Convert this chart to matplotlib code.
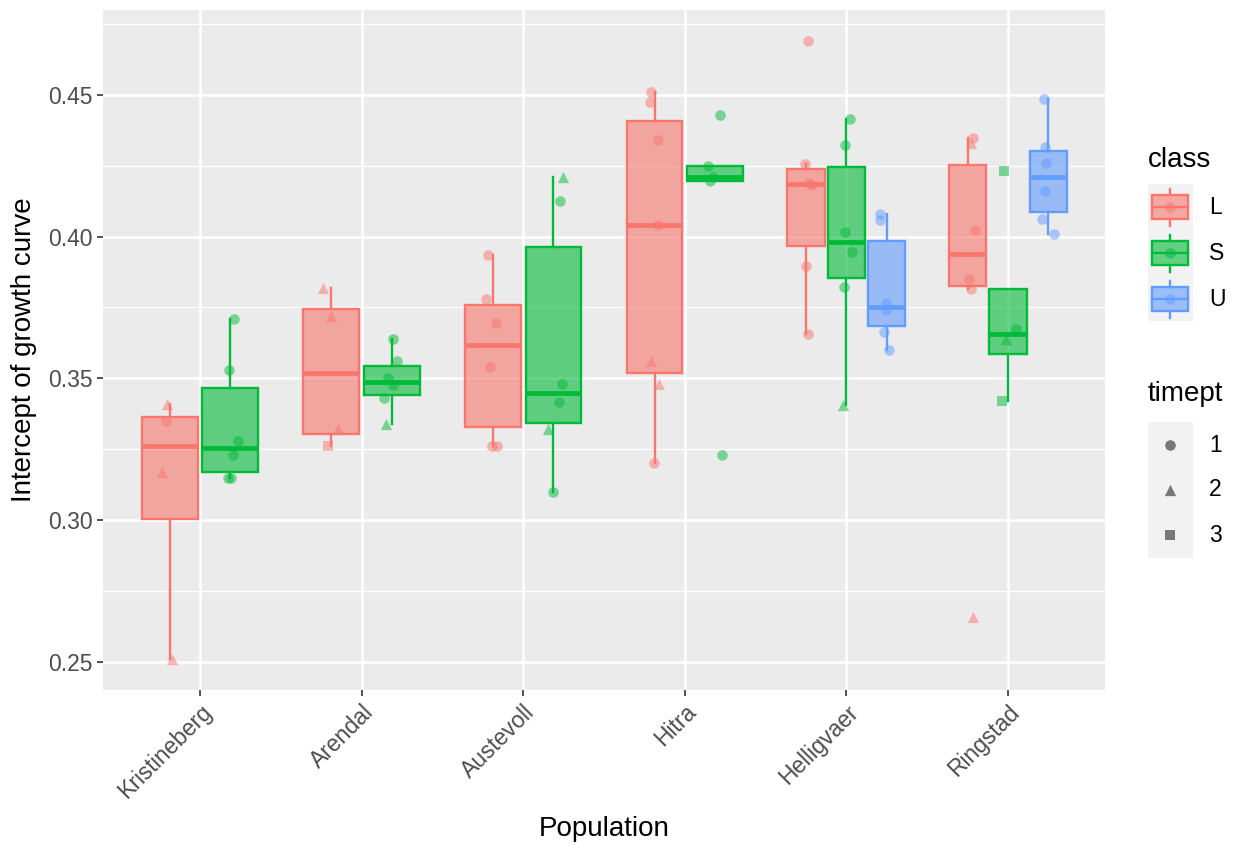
import matplotlib
matplotlib.use("Agg")
import matplotlib.pyplot as plt
from matplotlib.patches import Rectangle
import numpy as np

plt.rcParams['font.family'] = ['Liberation Sans', 'DejaVu Sans']

# data (one entry per population x class group)
populations = ["Kristineberg", "Arendal", "Austevoll", "Hitra", "Helligvaer", "Ringstad"]
class_names = ["L", "S", "U"]
class_colors = {"L": "#F8766D", "S": "#00BA38", "U": "#619CFF"}
timepts = [1, 2, 3]
timept_markers = {1: "o", 2: "^", 3: "s"}
marker_sizes = {"o": 58, "^": 66, "s": 52}

group_pop = ["Kristineberg", "Kristineberg", "Arendal", "Arendal", "Austevoll", "Austevoll",
             "Hitra", "Hitra", "Helligvaer", "Helligvaer", "Helligvaer",
             "Ringstad", "Ringstad", "Ringstad"]
group_cls = ["L", "S", "L", "S", "L", "S", "L", "S", "L", "S", "U", "L", "S", "U"]
group_vals = [
    [0.341, 0.335, 0.317, 0.251],
    [0.371, 0.353, 0.328, 0.323, 0.315, 0.315],
    [0.382, 0.372, 0.332, 0.326],
    [0.364, 0.356, 0.350, 0.3475, 0.343, 0.334],
    [0.3935, 0.378, 0.3695, 0.354, 0.326, 0.326],
    [0.421, 0.4125, 0.348, 0.3415, 0.332, 0.310],
    [0.451, 0.4475, 0.434, 0.404, 0.356, 0.348, 0.320],
    [0.443, 0.425, 0.421, 0.4197, 0.3228],
    [0.469, 0.4256, 0.419, 0.4183, 0.3896, 0.3658],
    [0.4414, 0.4323, 0.4017, 0.3946, 0.3823, 0.3405],
    [0.408, 0.4058, 0.3764, 0.374, 0.3664, 0.3601],
    [0.4349, 0.4329, 0.4023, 0.3852, 0.3816, 0.2659],
    [0.4231, 0.3675, 0.364, 0.342],
    [0.4484, 0.4317, 0.4261, 0.4161, 0.4061, 0.4008],
]
group_tp = [
    [2, 1, 2, 2],
    [1, 1, 1, 1, 1, 1],
    [2, 2, 2, 3],
    [1, 1, 1, 1, 1, 2],
    [1, 1, 1, 1, 1, 1],
    [2, 1, 1, 1, 2, 1],
    [1, 1, 1, 1, 2, 2, 1],
    [1, 1, 1, 1, 1],
    [1, 1, 1, 1, 1, 1],
    [1, 1, 1, 1, 1, 2],
    [1, 1, 1, 1, 1, 1],
    [1, 2, 1, 1, 1, 2],
    [3, 1, 2, 3],
    [1, 1, 1, 1, 1, 1],
]
# horizontal jitter of each point (category units)
group_jit = [
    [-0.016, -0.022, -0.047, 0.016],
    [0.025, -0.006, 0.047, 0.016, -0.016, 0.003],
    [-0.050, 0.0, 0.043, -0.020],
    [0.006, 0.031, -0.025, 0.006, -0.050, -0.037],
    [-0.029, -0.043, 0.017, -0.019, -0.008, 0.023],
    [0.056, 0.040, 0.050, 0.034, -0.037, 0.0],
    [-0.019, -0.025, 0.019, 0.019, -0.019, 0.025, -0.006],
    [0.031, -0.043, -0.016, -0.034, 0.040],
    [0.011, -0.006, 0.020, 0.035, 0.0, 0.011],
    [0.025, -0.006, -0.006, 0.035, -0.017, -0.023],
    [-0.043, -0.040, -0.006, -0.006, -0.019, 0.012],
    [0.035, 0.019, 0.045, 0.011, 0.019, 0.033],
    [-0.023, 0.050, -0.012, -0.037],
    [-0.029, -0.023, -0.012, -0.019, -0.039, 0.033],
]

W, H = 1238, 846
fig = plt.figure(figsize=(W / 100, H / 100), dpi=100)
ax = fig.add_axes([103 / W, 1 - 690 / H, 1002 / W, 680 / H])
ax.set_facecolor("#EBEBEB")
for s in ax.spines.values():
    s.set_visible(False)

# dodge like ggplot (width 0.75, padding 0.1)
for p_i, p in enumerate(populations):
    xpos = p_i + 1
    idx = [g for g in range(len(group_pop)) if group_pop[g] == p]
    n = len(idx)
    slot = 0.75 / n
    for k, g in enumerate(idx):
        c = class_colors[group_cls[g]]
        cx = xpos - 0.375 + slot * (k + 0.5)
        vals = group_vals[g]
        ax.boxplot([vals], positions=[cx], widths=slot * 0.92, patch_artist=True,
                   showfliers=False, showcaps=False, whis=1.5, manage_ticks=False,
                   boxprops=dict(facecolor=(c, 0.6), edgecolor=c, linewidth=1.7),
                   medianprops=dict(color=c, linewidth=3.4, solid_capstyle="butt"),
                   whiskerprops=dict(color=c, linewidth=1.7), zorder=2)
        for v, t, j in zip(vals, group_tp[g], group_jit[g]):
            m = timept_markers[t]
            ax.scatter(cx + j, v, marker=m, s=marker_sizes[m], color=c, alpha=0.5,
                       linewidths=0, zorder=3)

allv = np.concatenate([np.array(v) for v in group_vals])
rng = allv.max() - allv.min()
ax.set_ylim(allv.min() - 0.05 * rng, allv.max() + 0.05 * rng)
ax.set_xlim(0.4, len(populations) + 0.6)

ax.set_yticks([0.25, 0.30, 0.35, 0.40, 0.45])
ax.set_yticklabels(["0.25", "0.30", "0.35", "0.40", "0.45"])
ax.set_yticks([0.275, 0.325, 0.375, 0.425, 0.475], minor=True)
ax.set_xticks(range(1, len(populations) + 1))
ax.set_xticklabels(populations, rotation=45, ha="right", va="top",
                   rotation_mode="anchor")
ax.tick_params(axis="both", which="major", length=4.5, width=1.2, color="#333333",
               labelcolor="#4D4D4D", labelsize=16.5, pad=3)
ax.tick_params(axis="y", which="minor", length=0)
ax.grid(True, which="major", color="white", linewidth=1.8)
ax.grid(True, which="minor", axis="y", color="white", linewidth=0.9)
ax.set_axisbelow(True)

ax.set_xlabel("Population", fontsize=20, labelpad=9)
ax.set_ylabel("Intercept of growth curve", fontsize=20, labelpad=8)

# legend drawn in pixel coordinates
lax = fig.add_axes([0, 0, 1, 1])
lax.set_xlim(0, W)
lax.set_ylim(H, 0)
lax.axis("off")

lax.text(1148, 167, "class", fontsize=20, ha="left", va="baseline")
lax.add_patch(Rectangle((1148, 184), 45, 137, facecolor="#F2F2F2", edgecolor="none"))
for i, cn in enumerate(class_names):
    c = class_colors[cn]
    cy = 207 + 46 * i
    lax.add_patch(Rectangle((1152, cy - 11.5), 36, 23.5, facecolor=(c, 0.6),
                            edgecolor=c, linewidth=1.7))
    lax.plot([1152, 1188], [cy, cy], color=c, linewidth=1.7)
    lax.plot([1170, 1170], [cy - 17.5, cy - 11.5], color=c, linewidth=1.7)
    lax.plot([1170, 1170], [cy + 12, cy + 19.5], color=c, linewidth=1.7)
    lax.scatter(1170, cy, s=marker_sizes["o"], color=c, alpha=0.5, linewidths=0)
    lax.text(1209, cy, cn, fontsize=16.5, ha="left", va="center")

lax.text(1148, 401, "timept", fontsize=20, ha="left", va="baseline")
lax.add_patch(Rectangle((1148, 422), 45, 136, facecolor="#F2F2F2", edgecolor="none"))
for i, t in enumerate(timepts):
    cy = 445 + 45 * i
    m = timept_markers[t]
    lax.scatter(1170, cy, marker=m, s=marker_sizes[m], color="black", alpha=0.5,
                linewidths=0)
    lax.text(1209, cy, str(t), fontsize=16.5, ha="left", va="center")

fig.savefig("out.png", dpi=100)
